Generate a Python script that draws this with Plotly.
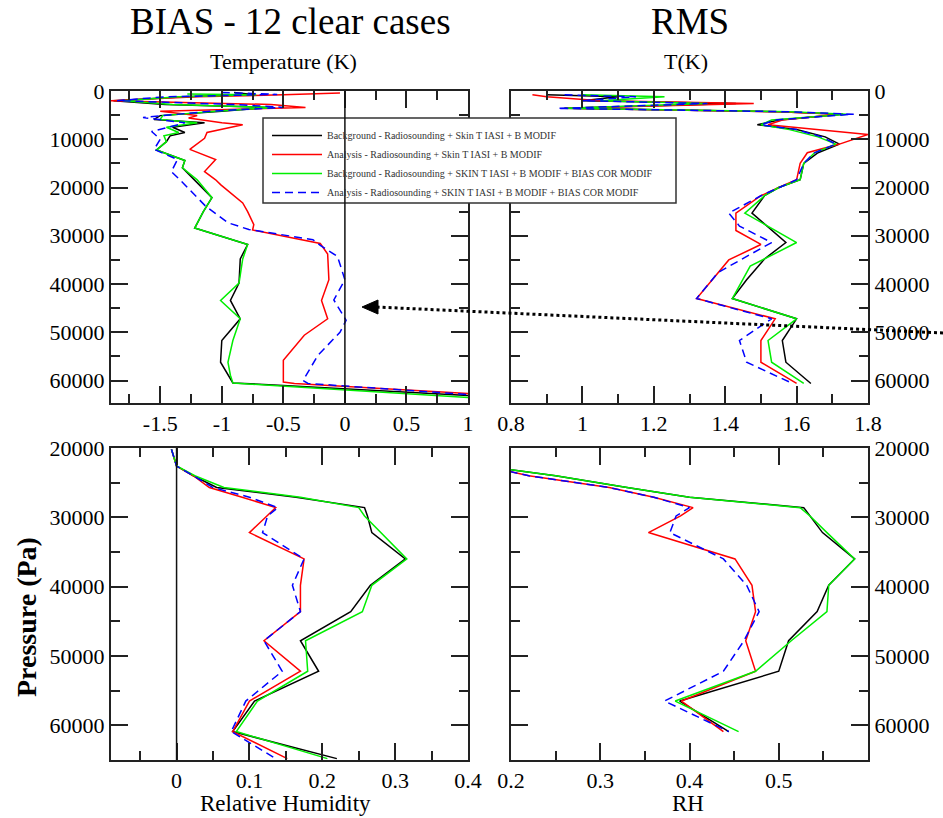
import plotly.graph_objects as go

W, H = 943, 818

# ------------------------------------------------------------------ data
NAMES = [
    "Background - Radiosounding + Skin T IASI + B MODIF",
    "Analysis - Radiosounding + Skin T IASI + B MODIF",
    "Background - Radiosounding + SKIN T IASI + B MODIF + BIAS COR MODIF",
    "Analysis - Radiosounding + SKIN T IASI + B MODIF + BIAS COR MODIF",
]

# --- Temperature bias (K), top-left
P_Tbias_bg = [300, 700, 1200, 2000, 2800, 3400, 4200, 5100, 5900, 6600, 7500, 8600, 9300, 10500, 12200,
              14400, 15900, 18400, 22100, 25000, 28400, 31800, 34800, 39800, 43400, 47200, 51700, 56200,
              58900, 60500, 61000, 63100]
Tbias_bg = [-0.9, -0.75, -1.3, -1.88, -1.46, -0.62, -1.0, -1.5, -1.55, -1.14, -1.4, -1.3, -1.42, -1.45, -1.53,
            -1.3, -1.32, -1.22, -1.08, -1.15, -1.22, -0.79, -0.85, -0.86, -0.93, -0.85, -1.0, -1.01,
            -0.95, -0.91, -0.5, 1.0]

P_Tbias_an = [400, 800, 1200, 2000, 2800, 3400, 4200, 5100, 5600, 6600, 7000, 8600, 9800, 12100, 14200,
              16700, 18400, 19400, 23200, 25000, 27700, 28800, 31600, 33800, 39100, 43400, 47200, 50600,
              55800, 60300, 60600, 62700]
Tbias_an = [-0.04, -0.5, -1.2, -1.9, -0.6, -0.32, -1.5, -1.2, -1.27, -1.0, -0.83, -1.12, -1.14, -1.26, -1.05,
            -1.14, -1.05, -1.01, -0.83, -0.79, -0.74, -0.75, -0.2, -0.14, -0.13, -0.19, -0.14, -0.33,
            -0.5, -0.5, -0.41, 1.0]

P_Tbias_bgc = [600, 800, 1200, 2000, 2800, 3400, 4200, 5100, 5900, 6600, 7500, 8600, 9300, 10500, 12200,
               14400, 15900, 18400, 22100, 25000, 28400, 31800, 34800, 39800, 43400, 47200, 51700, 56200,
               58900, 60500, 61100, 63500]
Tbias_bgc = [-1.28, -0.72, -1.35, -1.8, -1.4, -0.58, -1.05, -1.48, -1.5, -1.2, -1.45, -1.35, -1.47, -1.45, -1.53,
             -1.3, -1.32, -1.2, -1.08, -1.15, -1.22, -0.79, -0.83, -0.86, -1.01, -0.85, -0.91, -0.95,
             -0.93, -0.91, -0.55, 1.0]

P_Tbias_anc = [300, 700, 1200, 2000, 2800, 3400, 4200, 5500, 6600, 8400, 10000, 12100, 14200, 16700,
               18400, 23900, 27300, 28700, 30800, 32000, 34300, 39100, 43300, 47500, 50000, 54800, 60000,
               60600, 62900]
Tbias_anc = [-1.0, -0.55, -1.46, -1.85, -0.9, -0.5, -1.1, -1.64, -1.3, -1.57, -1.5, -1.55, -1.36, -1.41,
             -1.34, -1.13, -0.95, -0.78, -0.26, -0.2, -0.06, 0.0, -0.09, 0.01, -0.04, -0.22, -0.34,
             -0.3, 1.0]

# --- Temperature RMS (K), top-right
P_Trms_bg = [800, 1200, 2000, 2600, 3600, 4300, 4800, 6000, 7000, 8000, 9500, 11000, 12800, 15000, 18400,
             20000, 21700, 25300, 31400, 34800, 39100, 43000, 47200, 51700, 56200, 60600]
Trms_bg = [0.9, 1.1, 1.0, 1.43, 0.95, 1.55, 1.73, 1.55, 1.49, 1.6, 1.68, 1.72, 1.66, 1.62, 1.61,
           1.55, 1.51, 1.475, 1.57, 1.51, 1.46, 1.42, 1.60, 1.56, 1.57, 1.64]

P_Trms_an = [800, 1200, 2000, 2600, 3600, 4300, 4800, 6000, 7000, 8000, 9000, 11000, 12800, 15000, 18400,
             20000, 21700, 25300, 28900, 31800, 35000, 43000, 47200, 51700, 56200, 60600]
Trms_an = [0.86, 0.9, 1.05, 1.48, 0.95, 1.55, 1.72, 1.56, 1.52, 1.65, 1.80, 1.72, 1.63, 1.61, 1.6,
           1.55, 1.5, 1.43, 1.43, 1.50, 1.41, 1.32, 1.54, 1.50, 1.50, 1.60]

P_Trms_bgc = [800, 1200, 2000, 2600, 3600, 4300, 4800, 6000, 7000, 8000, 9500, 11000, 12800, 15000, 18400,
              20000, 21700, 25300, 31400, 36300, 43000, 47200, 51700, 56200, 60600]
Trms_bgc = [1.0, 1.23, 1.05, 1.35, 0.95, 1.58, 1.74, 1.53, 1.50, 1.58, 1.66, 1.71, 1.65, 1.62, 1.61,
            1.55, 1.51, 1.455, 1.60, 1.47, 1.42, 1.60, 1.52, 1.53, 1.62]

P_Trms_anc = [800, 1200, 2000, 2600, 3600, 4300, 4800, 6000, 7000, 8000, 9500, 11000, 12800, 15000, 18400,
              20000, 21700, 25300, 28000, 31400, 37600, 43000, 47200, 51700, 56200, 60300]
Trms_anc = [0.95, 1.15, 1.0, 1.35, 0.93, 1.58, 1.76, 1.54, 1.50, 1.6, 1.67, 1.71, 1.65, 1.62, 1.6,
            1.55, 1.5, 1.41, 1.44, 1.53, 1.38, 1.32, 1.53, 1.44, 1.46, 1.58]

# --- Relative humidity bias, bottom-left
P_RHbias = [20200, 22600, 24000, 25700, 27100, 28600, 29800, 32200, 36000, 39800, 43600, 47800,
            52200, 56500, 60900, 64800]
RHbias_bg = [-0.007, 0.0, 0.023, 0.055, 0.164, 0.258, 0.262, 0.268, 0.314, 0.266, 0.239, 0.17,
             0.195, 0.107, 0.077, 0.22]
RHbias_an = [-0.007, 0.0, 0.023, 0.045, 0.09, 0.136, 0.124, 0.1, 0.175, 0.17, 0.17, 0.12,
             0.17, 0.1, 0.077, 0.152]
RHbias_bgc = [-0.007, 0.0, 0.025, 0.065, 0.17, 0.25, 0.258, 0.28, 0.316, 0.268, 0.255, 0.177,
              0.18, 0.111, 0.082, 0.207]
RHbias_anc = [-0.007, 0.0, 0.023, 0.05, 0.1, 0.139, 0.125, 0.118, 0.175, 0.159, 0.17, 0.12,
              0.145, 0.095, 0.075, 0.136]

# --- Relative humidity RMS, bottom-right
P_RHrms = [22600, 24000, 25700, 27100, 28600, 29800, 32200, 36000, 39800, 43600, 47800, 52200,
           56500, 60900]
RHrms_bg = [0.17, 0.25, 0.33, 0.40, 0.528, 0.535, 0.549, 0.585, 0.556, 0.543, 0.511, 0.5, 0.389, 0.444]
RHrms_an = [0.17, 0.22, 0.31, 0.36, 0.404, 0.39, 0.354, 0.451, 0.47, 0.474, 0.463, 0.474, 0.391, 0.438]
RHrms_bgc = [0.17, 0.25, 0.33, 0.40, 0.524, 0.535, 0.554, 0.585, 0.556, 0.554, 0.514, 0.474, 0.384, 0.455]
RHrms_anc = [0.17, 0.22, 0.31, 0.36, 0.40, 0.385, 0.378, 0.438, 0.464, 0.478, 0.461, 0.438, 0.372, 0.444]

# tick labels
X_TL_VALS = [-1.5, -1, -0.5, 0, 0.5, 1]
X_TL_TEXT = ["-1.5", "-1", "-0.5", "0", "0.5", "1"]
X_TR_VALS = [0.8, 1.0, 1.2, 1.4, 1.6, 1.8]
X_TR_TEXT = ["0.8", "1", "1.2", "1.4", "1.6", "1.8"]
X_BL_VALS = [0, 0.1, 0.2, 0.3, 0.4]
X_BL_TEXT = ["0", "0.1", "0.2", "0.3", "0.4"]
X_BR_VALS = [0.2, 0.3, 0.4, 0.5]
X_BR_TEXT = ["0.2", "0.3", "0.4", "0.5"]
Y_TOP_VALS = [0, 10000, 20000, 30000, 40000, 50000, 60000]
Y_TOP_TEXT = ["0", "10000", "20000", "30000", "40000", "50000", "60000"]
Y_BOT_VALS = [20000, 30000, 40000, 50000, 60000]
Y_BOT_TEXT = ["20000", "30000", "40000", "50000", "60000"]

COLORS = ["#000000", "#ff0000", "#00ee00", "#0000ff"]
DASHES = ["solid", "solid", "solid", "8px,5px"]
SERIF = "Liberation Serif"

# ------------------------------------------------------------------ figure
fig = go.Figure()

panels = [
    ("x", "y", [(P_Tbias_bg, Tbias_bg), (P_Tbias_an, Tbias_an), (P_Tbias_bgc, Tbias_bgc), (P_Tbias_anc, Tbias_anc)], True),
    ("x2", "y2", [(P_Trms_bg, Trms_bg), (P_Trms_an, Trms_an), (P_Trms_bgc, Trms_bgc), (P_Trms_anc, Trms_anc)], False),
    ("x3", "y3", [(P_RHbias, RHbias_bg), (P_RHbias, RHbias_an), (P_RHbias, RHbias_bgc), (P_RHbias, RHbias_anc)], False),
    ("x4", "y4", [(P_RHrms, RHrms_bg), (P_RHrms, RHrms_an), (P_RHrms, RHrms_bgc), (P_RHrms, RHrms_anc)], False),
]
for xa, ya, series, show in panels:
    for i, (p, v) in enumerate(series):
        fig.add_trace(go.Scatter(
            x=v, y=p, mode="lines", name=NAMES[i], xaxis=xa, yaxis=ya,
            line=dict(color=COLORS[i], width=1.5, dash=DASHES[i]),
            showlegend=show, hoverinfo="skip"))


def fx(px):
    return px / W


def fy(py):
    return 1 - py / H


XL = [fx(111), fx(468)]
XR = [fx(511), fx(868)]
YT = [fy(403), fy(91)]
YB = [fy(760), fy(448)]

AXC = "#222222"
common = dict(showline=True, linecolor=AXC, linewidth=2, mirror="allticks", ticks="inside",
              ticklen=17, tickwidth=2, tickcolor=AXC, showgrid=False, zeroline=False,
              automargin=False, tickmode="array",
              tickfont=dict(family=SERIF, size=22, color="#000"))


def minor(d, t0=0):
    return dict(ticks="inside", ticklen=9, tickwidth=2, tickcolor=AXC, showgrid=False,
                tickmode="linear", tick0=t0, dtick=d)


fig.update_layout(
    template="none",
    width=W, height=H, autosize=False,
    margin=dict(l=0, r=0, t=0, b=0),
    paper_bgcolor="white", plot_bgcolor="white",
    font=dict(family=SERIF, color="#000"),
    xaxis=dict(common, domain=XL, anchor="y", range=[-1.9, 1.0], tickvals=X_TL_VALS, ticktext=X_TL_TEXT,
               minor=minor(0.25)),
    yaxis=dict(common, domain=YT, anchor="x", range=[64650, 0], tickvals=Y_TOP_VALS, ticktext=Y_TOP_TEXT,
               minor=minor(5000)),
    xaxis2=dict(common, domain=XR, anchor="y2", range=[0.8, 1.8], tickvals=X_TR_VALS, ticktext=X_TR_TEXT,
                minor=minor(0.1)),
    yaxis2=dict(common, domain=YT, anchor="x2", side="right", range=[64650, 0], tickvals=Y_TOP_VALS,
                ticktext=Y_TOP_TEXT, minor=minor(5000)),
    xaxis3=dict(common, domain=XL, anchor="y3", range=[-0.09, 0.4], tickvals=X_BL_VALS, ticktext=X_BL_TEXT,
                minor=minor(0.05)),
    yaxis3=dict(common, domain=YB, anchor="x3", range=[65000, 20000], tickvals=Y_BOT_VALS, ticktext=Y_BOT_TEXT,
                minor=minor(5000)),
    xaxis4=dict(common, domain=XR, anchor="y4", range=[0.2, 0.6], tickvals=X_BR_VALS, ticktext=X_BR_TEXT,
                minor=minor(0.05)),
    yaxis4=dict(common, domain=YB, anchor="x4", side="right", range=[65000, 20000], tickvals=Y_BOT_VALS,
                ticktext=Y_BOT_TEXT, minor=minor(5000)),
    legend=dict(x=fx(267), y=fy(121), xanchor="left", yanchor="top", bgcolor="rgba(0,0,0,0)",
                borderwidth=0, font=dict(family=SERIF, size=10, color="#333"),
                itemwidth=50, tracegroupgap=0),
    showlegend=True,
)

shapes = [
    # legend box (covers the panel frames like in the original)
    dict(type="rect", xref="paper", yref="paper", x0=fx(263), x1=fx(676), y0=fy(203), y1=fy(118),
         fillcolor="white", line=dict(color="#333", width=1.5), layer="above"),
    # zero lines of the bias panels
    dict(type="line", xref="x", yref="y domain", x0=0, x1=0, y0=0, y1=1,
         line=dict(color="#111", width=1.5), layer="above"),
    dict(type="line", xref="x3", yref="y3 domain", x0=0, x1=0, y0=0, y1=1,
         line=dict(color="#111", width=1.5), layer="above"),
    # dotted arrow
    dict(type="line", xref="paper", yref="paper", x0=fx(943), y0=fy(333), x1=fx(376), y1=fy(307),
         line=dict(color="#000", width=3, dash="dot"), layer="above"),
    dict(type="path", xref="paper", yref="paper",
         path=f"M{fx(362)},{fy(307)} L{fx(378)},{fy(300)} L{fx(378)},{fy(314)} Z",
         fillcolor="#000", line=dict(color="#000", width=1), layer="above"),
]
fig.update_layout(shapes=shapes)

ann = [
    ("BIAS - 12 clear cases", 290, 22, 37, 0),
    ("Temperature (K)", 283, 62, 22, 0),
    ("RMS", 690, 22, 37, 0),
    ("T(K)", 686, 62, 22, 0),
    ("Relative Humidity", 285, 803, 23, 0),
    ("RH", 688, 803, 23, 0),
    ("<b>Pressure (Pa)</b>", 26, 617, 28, -90),
]
fig.update_layout(annotations=[
    dict(text=t, x=fx(x), y=fy(y), xref="paper", yref="paper", showarrow=False,
         xanchor="center", yanchor="middle", textangle=a,
         font=dict(family=SERIF, size=s, color="#000"))
    for t, x, y, s, a in ann
])

fig.write_html("out.html")
